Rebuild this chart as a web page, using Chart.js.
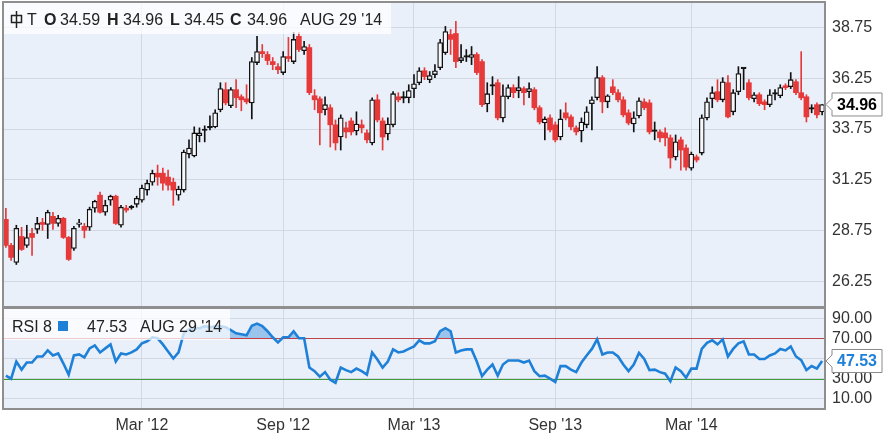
<!DOCTYPE html>
<html>
<head>
<meta charset="utf-8">
<script src="https://cdn.jsdelivr.net/npm/chart.js@4.4.1/dist/chart.umd.min.js"></script>
<style>
  body { margin: 0; background: #fff; }
  #wrap { position: relative; width: 891px; height: 436px; overflow: hidden; }
  canvas { position: absolute; left: 0; }
  #priceChart { top: 0; }
  #rsiChart { top: 307px; }
</style>
</head>
<body>
<div id="wrap">
  <canvas id="priceChart" width="891" height="308"></canvas>
  <canvas id="rsiChart" width="891" height="129"></canvas>
</div>
<script>
// weekly candles for T, one per week up to Aug 29 '14
var opens = [29.31,28.03,27.19,28.47,28.03,28.62,28.82,29.16,29.06,29.46,29.11,29.36,28.42,27.88,29.06,28.97,28.92,29.86,30.50,29.66,
  30.25,30.45,29.02,29.86,29.88,30.05,30.25,30.75,31.14,31.58,31.58,31.39,31.14,30.50,30.75,32.52,32.43,33.42,33.68,33.81,
  33.86,34.70,35.69,34.90,35.69,35.34,35.24,35.04,37.02,37.56,37.42,37.07,36.82,36.53,37.32,37.07,38.31,37.61,37.76,35.39,
  35.24,34.70,34.80,33.96,33.36,33.81,34.15,33.66,33.96,33.56,33.07,35.19,34.15,33.51,33.96,35.34,35.27,35.29,35.74,36.03,
  36.62,36.18,36.43,36.77,37.51,38.40,38.45,37.12,37.29,37.27,37.42,37.07,34.99,35.86,36.03,34.30,35.34,35.79,35.64,35.74,
  35.59,35.69,34.80,34.05,34.30,33.96,33.36,34.55,34.35,33.81,33.66,33.96,35.00,35.29,36.28,35.09,35.83,35.54,35.19,34.55,
  34.00,34.40,35.09,35.04,33.64,33.61,33.56,33.32,32.38,33.22,32.82,31.83,32.38,32.57,34.30,35.24,35.59,35.19,36.03,34.60,
  35.59,36.72,36.03,35.24,35.44,35.09,34.95,35.47,35.39,35.88,35.83,36.08,35.54,35.34,34.73,34.95,34.59];
var highs = [29.85,28.13,29.02,28.92,29.02,28.87,29.41,29.36,29.76,29.66,29.51,29.41,28.47,28.97,29.31,29.11,29.91,30.25,30.65,30.25,
  30.50,30.50,30.00,30.00,30.00,30.45,31.00,31.24,31.73,31.98,31.83,31.73,31.34,30.94,32.72,33.22,33.86,33.81,33.91,34.40,
  34.70,36.03,36.03,35.79,36.18,35.44,35.93,37.27,38.31,37.91,37.56,37.27,36.97,37.56,38.26,38.51,38.51,38.06,37.91,35.69,
  35.34,35.34,34.95,34.20,34.45,34.10,34.30,34.60,34.20,33.71,35.29,35.44,34.30,34.30,35.59,35.54,35.59,35.93,36.43,36.77,
  36.77,36.58,36.92,38.16,38.80,38.65,39.05,37.91,37.66,37.81,37.51,37.17,36.03,36.33,36.18,35.93,35.93,35.93,36.33,35.83,
  36.03,35.79,34.90,34.35,34.45,34.10,34.70,35.04,34.45,33.91,34.30,34.85,35.34,36.82,36.38,35.44,36.18,35.69,35.34,34.70,
  34.60,35.29,35.24,35.19,34.10,33.71,33.81,33.46,33.46,33.36,32.97,32.62,32.48,34.45,35.29,35.83,36.18,36.28,36.38,35.69,
  36.82,36.77,36.18,35.54,35.54,35.19,35.69,35.69,35.93,35.98,36.53,36.18,37.56,35.44,34.95,35.04,34.96];
var lows = [27.93,27.29,27.09,27.78,27.93,27.54,28.62,28.77,28.37,28.82,28.97,28.37,27.29,27.78,28.92,28.40,28.77,29.66,29.61,29.51,
  30.00,29.06,28.92,29.66,29.81,29.91,30.15,30.50,30.99,30.99,30.75,30.75,30.00,30.25,30.65,32.33,32.38,33.12,33.12,33.71,
  33.81,34.60,34.94,34.80,34.80,34.65,34.99,34.25,36.92,37.27,36.92,36.67,36.48,36.43,37.07,36.97,37.56,37.42,35.44,34.70,
  32.97,34.45,32.87,32.72,32.72,33.32,33.46,33.46,33.56,33.07,32.97,34.10,32.72,33.22,33.86,35.09,35.04,35.04,35.29,35.93,
  36.18,36.03,36.28,36.67,37.42,37.42,36.77,37.02,37.07,36.92,36.43,34.85,34.60,35.44,34.20,34.10,35.24,35.29,35.29,34.94,
  35.29,34.70,34.00,33.22,33.61,33.12,33.22,34.20,33.71,33.46,33.12,33.81,33.71,35.19,34.55,34.80,35.44,35.09,34.35,33.96,
  33.61,34.30,34.70,33.51,33.22,33.12,32.92,31.83,32.23,31.73,31.73,31.73,32.13,32.48,34.20,34.80,35.09,35.09,34.30,34.45,
  35.44,35.69,35.19,35.09,34.90,34.70,34.85,35.19,35.29,35.69,35.74,35.44,35.19,34.10,34.55,34.30,34.45];
var closes = [28.03,27.44,28.87,27.83,28.42,28.42,29.11,29.06,29.66,29.11,29.36,28.42,27.34,28.87,29.11,28.77,29.81,30.20,29.66,30.00,
  30.45,29.11,29.91,29.76,29.91,30.35,30.85,31.09,31.58,31.39,31.09,30.99,30.75,30.80,32.62,32.82,33.56,33.56,33.73,33.86,
  34.55,35.74,35.04,35.69,35.29,35.19,35.09,37.07,37.56,37.46,37.12,36.92,36.67,37.32,37.22,38.16,37.66,37.81,35.54,35.19,
  34.55,34.95,33.96,33.07,34.30,33.61,33.61,34.00,33.81,33.22,35.19,34.20,33.36,34.00,35.49,35.19,35.29,35.64,35.98,36.62,
  36.33,36.38,36.62,38.01,38.55,38.16,37.07,37.27,37.32,37.42,36.53,34.95,35.49,35.88,34.30,35.39,35.79,35.54,35.79,35.54,
  35.74,34.80,34.10,34.25,33.71,33.22,34.25,34.30,33.86,33.61,34.10,34.60,35.19,36.28,35.09,35.39,35.54,35.19,34.45,34.05,
  34.30,35.14,34.80,33.61,33.66,33.32,33.32,32.33,33.12,32.72,31.88,32.52,32.23,34.30,35.09,35.54,35.19,36.08,34.35,35.54,
  36.48,36.74,35.29,35.44,35.00,34.95,35.44,35.49,35.79,35.79,36.18,35.54,35.29,34.35,34.75,34.45,34.96];
var rsi8 = [33,30,47,39,46,46,52,52,58,53,55,45,34,53,54,51,60,63,56,60,
  64,47,55,54,56,59,65,67,71,70,64,57,50,56,75,79,80,80,82,81,
  82,82,81,78,75,74,73,82.5,84.5,82,77,71,66,71,71,77,70,70,41,37.5,
  32,36.5,29,26,41,38.5,36.5,40,37.5,34,56,49,41,47,59,56,57,59.5,62,68,
  65,65,67,77,80,77,56,58,59,59,47,32.5,39,44,33,44,48,48,48,46,
  48,37.5,32.5,33,30,26.7,42.5,42.5,39,36.5,46,53,59.5,69,54,56,56,52,44,37.5,
  44,55.5,49.5,38.5,39,36.5,35,27.5,41,37.5,31,40,40,59.5,65.5,68,64,69,52,59.5,
  65,67,54,54,49.5,49.5,53,55,59.5,58,62,52,48.3,38.5,42.5,40,47.53];

var xTickIdx = [26, 53, 78, 105, 131];
var xTickLabels = ["Mar '12", "Sep '12", "Mar '13", "Sep '13", "Mar '14"];
var priceTicks = [26.25, 28.75, 31.25, 33.75, 36.25, 38.75];
var rsiTicks = [10, 30, 50, 70, 90];
var rsiUpper = 70, rsiLower = 30;
var lastDate = "AUG 29 '14";

var FONT = '"Liberation Sans", Arial, sans-serif';
var BG = '#eaf0fa';
var GRID = '#d2d8e1';
var RED = '#e63a3a';
var DARK = '#111111';
var RSI_BLUE = '#1f80d8';
var n = closes.length;

function isUp(i) { return closes[i] >= opens[i]; }

var framePlugin = {
  id: 'frame',
  beforeDraw: function (chart) {
    var a = chart.chartArea, c = chart.ctx;
    c.save();
    c.fillStyle = BG;
    c.fillRect(a.left, a.top, a.right - a.left, a.bottom - a.top);
    c.restore();
  },
  afterDraw: function (chart) {
    var a = chart.chartArea, c = chart.ctx;
    c.save();
    c.strokeStyle = '#8f8f8f';
    c.lineWidth = 2;
    c.strokeRect(a.left, a.top, a.right - a.left, a.bottom - a.top);
    c.restore();
  }
};

function valueBox(c, x, py, text, color) {
  c.save();
  c.beginPath();
  c.moveTo(x + 1, py);
  c.lineTo(x + 7, py - 6);
  c.lineTo(x + 7, py - 11.5);
  c.lineTo(x + 57, py - 11.5);
  c.lineTo(x + 57, py + 11.5);
  c.lineTo(x + 7, py + 11.5);
  c.lineTo(x + 7, py + 6);
  c.closePath();
  c.fillStyle = '#ffffff';
  c.fill();
  c.strokeStyle = '#8a8a8a';
  c.lineWidth = 1;
  c.stroke();
  c.fillStyle = color;
  c.font = 'bold 16px ' + FONT;
  c.textAlign = 'center';
  c.textBaseline = 'middle';
  c.fillText(text, x + 32, py + 1);
  c.restore();
}

var priceOverlay = {
  id: 'priceOverlay',
  afterDraw: function (chart) {
    var c = chart.ctx, a = chart.chartArea;
    c.save();
    c.fillStyle = 'rgba(255,255,255,0.72)';
    c.fillRect(a.left + 1, a.top + 1, 387, 31);
    // candle icon
    c.strokeStyle = '#222';
    c.lineWidth = 1.5;
    c.beginPath();
    c.moveTo(16.5, 11); c.lineTo(16.5, 28);
    c.stroke();
    c.strokeRect(11.5, 15.5, 10, 7);
    c.fillStyle = '#222';
    c.textBaseline = 'alphabetic';
    c.textAlign = 'left';
    var parts = [
      ['T', 27, false], ['O', 44, true], [opens[n - 1].toFixed(2), 60, false],
      ['H', 107, true], [highs[n - 1].toFixed(2), 123, false],
      ['L', 170, true], [lows[n - 1].toFixed(2), 184, false],
      ['C', 230, true], [closes[n - 1].toFixed(2), 247, false],
      [lastDate, 300, false]
    ];
    parts.forEach(function (p) {
      c.font = (p[2] ? 'bold ' : '') + '16px ' + FONT;
      c.fillText(p[0], p[1], 25);
    });
    c.restore();
    var py = chart.scales.y.getPixelForValue(closes[n - 1]);
    valueBox(c, a.right, py, closes[n - 1].toFixed(2), '#000');
  }
};

var rsiOverlay = {
  id: 'rsiOverlay',
  beforeDatasetsDraw: function (chart) {
    var c = chart.ctx, a = chart.chartArea, y = chart.scales.y;
    c.save();
    c.lineWidth = 1.2;
    c.strokeStyle = '#c93a3a';
    var yu = Math.round(y.getPixelForValue(rsiUpper)) + 0.5;
    c.beginPath(); c.moveTo(a.left, yu); c.lineTo(a.right, yu); c.stroke();
    c.strokeStyle = '#3f9b3a';
    var yl = Math.round(y.getPixelForValue(rsiLower)) + 0.5;
    c.beginPath(); c.moveTo(a.left, yl); c.lineTo(a.right, yl); c.stroke();
    c.restore();
  },
  afterDraw: function (chart) {
    var c = chart.ctx, a = chart.chartArea;
    c.save();
    c.fillStyle = 'rgba(255,255,255,0.72)';
    c.fillRect(a.left + 1, a.top + 1, 226, 31);
    c.fillStyle = '#222';
    c.font = '16px ' + FONT;
    c.textBaseline = 'alphabetic';
    c.fillText('RSI 8', 12, 25);
    c.fillStyle = RSI_BLUE;
    c.fillRect(58, 14, 10, 10);
    c.fillStyle = '#222';
    c.fillText(rsi8[n - 1].toFixed(2), 87, 25);
    c.fillText(lastDate, 140, 25);
    c.restore();
    var py = chart.scales.y.getPixelForValue(rsi8[n - 1]);
    valueBox(c, a.right, py, rsi8[n - 1].toFixed(2), RSI_BLUE);
  }
};

function noPad(s) {
  s.paddingTop = 0; s.paddingBottom = 0; s.paddingLeft = 0; s.paddingRight = 0;
}

function xScale(showLabels) {
  return {
    type: 'linear',
    offset: false,
    min: -0.55,
    max: n - 0.45,
    afterBuildTicks: function (s) { s.ticks = xTickIdx.map(function (v) { return { value: v }; }); },
    afterFit: function (s) { s.height = showLabels ? 27 : 0; noPad(s); },
    grid: { color: GRID, lineWidth: 1, drawTicks: false, offset: false },
    border: { display: false },
    ticks: {
      display: showLabels,
      padding: 7,
      color: '#333',
      font: { family: FONT, size: 16 },
      maxRotation: 0,
      autoSkip: false,
      callback: function (v) { var k = xTickIdx.indexOf(v); return k >= 0 ? xTickLabels[k] : ''; }
    }
  };
}

function yScale(lo, hi, ticks) {
  return {
    position: 'right',
    min: lo,
    max: hi,
    afterBuildTicks: function (s) { s.ticks = ticks.map(function (v) { return { value: v }; }); },
    afterFit: function (s) { s.width = 66; noPad(s); },
    grid: { color: GRID, lineWidth: 1, drawTicks: false },
    border: { display: false },
    ticks: {
      padding: 7,
      color: '#333',
      font: { family: FONT, size: 16 },
      callback: function (v) { return v.toFixed(2); }
    }
  };
}

var bodyData = opens.map(function (o, i) { return { x: i, y: [o, closes[i]] }; });
var wickData = lows.map(function (l, i) { return { x: i, y: [l, highs[i]] }; });

new Chart(document.getElementById('priceChart'), {
  type: 'bar',
  data: {
    datasets: [
      {
        data: bodyData,
        grouped: false,
        order: 0,
        barThickness: 5,
        minBarLength: 1.5,
        borderSkipped: false,
        borderWidth: function (ctx) { return isUp(ctx.dataIndex) ? 1.3 : 0; },
        borderColor: function (ctx) { return isUp(ctx.dataIndex) ? DARK : RED; },
        backgroundColor: function (ctx) {
          var i = ctx.dataIndex;
          if (!isUp(i)) return RED;
          return Math.abs(closes[i] - opens[i]) < 0.05 ? DARK : '#f6f8fc';
        }
      },
      {
        data: wickData,
        grouped: false,
        order: 1,
        barThickness: 1,
        borderWidth: 0,
        backgroundColor: function (ctx) { return isUp(ctx.dataIndex) ? DARK : RED; }
      }
    ]
  },
  options: {
    responsive: false,
    animation: false,
    layout: { padding: { top: 2, left: 3, right: 0, bottom: 1 } },
    plugins: { legend: { display: false }, tooltip: { enabled: false } },
    scales: {
      x: xScale(false),
      y: yScale(25, 40, priceTicks)
    }
  },
  plugins: [framePlugin, priceOverlay]
});

new Chart(document.getElementById('rsiChart'), {
  type: 'line',
  data: {
    datasets: [{
      data: rsi8.map(function (v, i) { return { x: i, y: v }; }),
      borderColor: RSI_BLUE,
      borderWidth: 2.6,
      pointRadius: 0,
      tension: 0,
      fill: { target: { value: rsiUpper }, above: 'rgba(90,160,225,0.55)', below: 'rgba(0,0,0,0)' }
    }]
  },
  options: {
    responsive: false,
    animation: false,
    layout: { padding: { top: 1, left: 3, right: 0, bottom: 0 } },
    plugins: { legend: { display: false }, tooltip: { enabled: false } },
    scales: {
      x: xScale(true),
      y: yScale(0, 100, rsiTicks)
    }
  },
  plugins: [framePlugin, rsiOverlay]
});
</script>
</body>
</html>
